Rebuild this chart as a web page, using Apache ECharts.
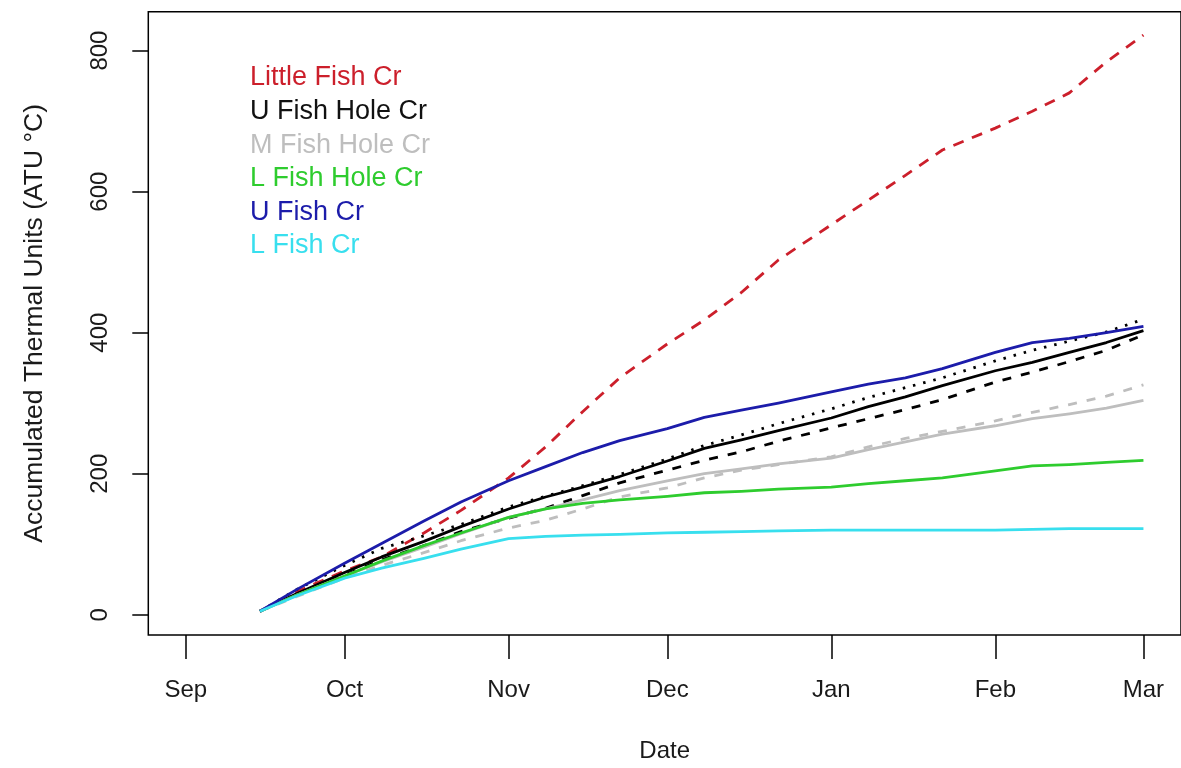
<!DOCTYPE html>
<html>
<head>
<meta charset="utf-8">
<script src="https://cdn.jsdelivr.net/npm/echarts@6/dist/echarts.min.js"></script>
<style>
  html, body { margin: 0; padding: 0; background: #ffffff; }
  #chart { width: 1181px; height: 768px; }
</style>
</head>
<body>
<div id="chart"></div>
<script>
// Sampling dates shared by every site
const dates = [
  '2014-09-15', '2014-09-22', '2014-10-01', '2014-10-08', '2014-10-16', '2014-10-23',
  '2014-11-01', '2014-11-08', '2014-11-15', '2014-11-22', '2014-12-01', '2014-12-08',
  '2014-12-15', '2014-12-22', '2015-01-01', '2015-01-08', '2015-01-15', '2015-01-22',
  '2015-02-01', '2015-02-08', '2015-02-15', '2015-02-22', '2015-03-01'
];

// Month tick positions and their labels
const monthTicks = ['2014-09-01', '2014-10-01', '2014-11-01', '2014-12-01', '2015-01-01', '2015-02-01', '2015-03-01'];
const monthLabels = ['Sep', 'Oct', 'Nov', 'Dec', 'Jan', 'Feb', 'Mar'];
const yTicks = [0, 200, 400, 600, 800];

// Accumulated thermal units (ATU, °C) per site
const littleFishCr   = [5, 33, 62, 82, 116, 148, 194, 238, 288, 336, 384, 418, 457, 503, 553, 588, 623, 659, 690, 714, 740, 784, 822];
const uFishHoleCr    = [5, 30, 60, 82, 104, 125, 150, 167, 181, 196, 218, 236, 248, 261, 279, 295, 309, 325, 346, 358, 372, 386, 403];
const uFishHoleCr2   = [5, 28, 56, 78, 98, 118, 137, 151, 169, 187, 205, 219, 231, 246, 265, 278, 291, 305, 330, 344, 359, 375, 397];
const uFishHoleCr3   = [5, 36, 70, 94, 112, 128, 153, 168, 183, 199, 221, 240, 255, 271, 292, 308, 322, 336, 360, 375, 388, 401, 419];
const mFishHoleCr    = [5, 28, 55, 75, 96, 115, 138, 150, 163, 176, 190, 200, 207, 214, 222, 234, 245, 256, 268, 278, 285, 293, 304];
const mFishHoleCr2   = [5, 26, 52, 70, 88, 105, 123, 134, 150, 167, 180, 194, 205, 213, 224, 238, 250, 260, 275, 287, 298, 310, 326];
const lFishHoleCr    = [5, 28, 55, 76, 98, 116, 138, 150, 158, 163, 168, 173, 175, 178, 181, 186, 190, 194, 204, 211, 213, 216, 219];
const uFishCr        = [5, 36, 73, 101, 133, 160, 190, 210, 230, 247, 264, 280, 290, 300, 316, 327, 336, 349, 372, 386, 392, 400, 409];
const lFishCr        = [5, 27, 52, 66, 80, 93, 108, 111, 113, 114, 116, 117, 118, 119, 120, 120, 120, 120, 120, 121, 122, 122, 122];

const DAY = 86400000;
function toTime(s) {
  const p = s.split('-').map(Number);
  return new Date(p[0], p[1] - 1, p[2]).getTime();
}
const monthTimes = monthTicks.map(toTime);
const pad = 7.1 * DAY;

function pairs(values) {
  return dates.map((d, i) => [toTime(d), values[i]]);
}

const FONT = '"Liberation Sans", Arial, Helvetica, sans-serif';
const TXT = '#1a1a1a';

const sites = [
  { name: 'Little Fish Cr',  data: littleFishCr, color: '#cc1f2b', dash: [11, 9] },
  { name: 'U Fish Hole Cr',  data: uFishHoleCr,  color: '#000000', dash: 'solid' },
  { name: 'U Fish Hole Cr',  data: uFishHoleCr2, color: '#000000', dash: [9, 10] },
  { name: 'U Fish Hole Cr',  data: uFishHoleCr3, color: '#000000', dash: [2.5, 8] },
  { name: 'M Fish Hole Cr',  data: mFishHoleCr,  color: '#bebebe', dash: 'solid' },
  { name: 'M Fish Hole Cr',  data: mFishHoleCr2, color: '#bebebe', dash: [9, 10] },
  { name: 'L Fish Hole Cr',  data: lFishHoleCr,  color: '#2ecc2e', dash: 'solid' },
  { name: 'U Fish Cr',       data: uFishCr,      color: '#1c1caa', dash: 'solid' },
  { name: 'L Fish Cr',       data: lFishCr,      color: '#38dfee', dash: 'solid' }
];

const legendNames = ['Little Fish Cr', 'U Fish Hole Cr', 'M Fish Hole Cr', 'L Fish Hole Cr', 'U Fish Cr', 'L Fish Cr'];
const legendColors = ['#cc1f2b', '#111111', '#bebebe', '#2ecc2e', '#1c1caa', '#38dfee'];

const chart = echarts.init(document.getElementById('chart'), null, { renderer: 'canvas' });

chart.setOption({
  animation: false,
  backgroundColor: '#ffffff',
  textStyle: { fontFamily: FONT },
  grid: {
    left: 148.3, top: 11.7, width: 1041.3, height: 625.3,
    show: true, borderColor: '#000000', borderWidth: 1.5, backgroundColor: 'transparent'
  },
  legend: {
    orient: 'vertical',
    left: 245, top: 64.5,
    padding: 0,
    itemGap: 6.6,
    itemWidth: 0, itemHeight: 0,
    icon: 'none',
    selectedMode: false,
    textStyle: { fontSize: 27, lineHeight: 27, fontFamily: FONT },
    data: legendNames.map((n, i) => ({ name: n, icon: 'none', textStyle: { color: legendColors[i] } }))
  },
  xAxis: {
    type: 'value',
    min: monthTimes[0] - pad,
    max: monthTimes[monthTimes.length - 1] + pad,
    name: 'Date',
    nameLocation: 'middle',
    nameGap: 104,
    nameTextStyle: { fontSize: 24, color: TXT, fontFamily: FONT },
    axisLine: { show: false, onZero: false },
    splitLine: { show: false },
    axisTick: {
      show: true, inside: false, length: 24,
      customValues: monthTimes,
      lineStyle: { color: '#000000', width: 1.5 }
    },
    axisLabel: {
      show: true, margin: 43,
      customValues: monthTimes,
      fontSize: 24, color: TXT, fontFamily: FONT,
      formatter: (v) => { const i = monthTimes.indexOf(v); return i >= 0 ? monthLabels[i] : ''; }
    }
  },
  yAxis: {
    type: 'value',
    min: -28.7,
    max: 855.1,
    name: 'Accumulated Thermal Units (ATU °C)',
    nameLocation: 'middle',
    nameGap: 100,
    nameRotate: 90,
    nameTextStyle: { fontSize: 26.5, color: TXT, fontFamily: FONT },
    axisLine: { show: false, onZero: false },
    splitLine: { show: false },
    axisTick: {
      show: true, length: 16,
      customValues: yTicks,
      lineStyle: { color: '#000000', width: 1.5 }
    },
    axisLabel: {
      show: true, rotate: 90, margin: 36,
      customValues: yTicks,
      fontSize: 24, color: TXT, fontFamily: FONT
    }
  },
  series: sites.map((s) => ({
    type: 'line',
    name: s.name,
    data: pairs(s.data),
    showSymbol: false,
    symbol: 'none',
    silent: true,
    lineStyle: { color: s.color, width: 2.8, type: s.dash, cap: 'butt', join: 'round' },
    itemStyle: { color: s.color },
    emphasis: { disabled: true }
  }))
});
</script>
</body>
</html>
